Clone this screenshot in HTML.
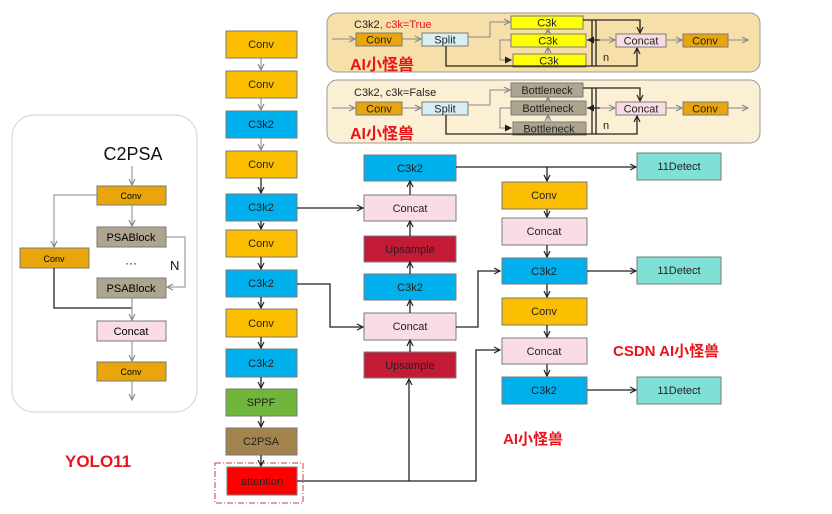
<!DOCTYPE html>
<html><head><meta charset="utf-8"><style>
html,body{margin:0;padding:0;background:#fff;width:832px;height:514px;overflow:hidden}
svg text{font-family:"Liberation Sans","Noto Sans CJK SC",sans-serif}
</style></head><body>
<svg width="832" height="514" viewBox="0 0 832 514" xmlns="http://www.w3.org/2000/svg">
<defs>
<marker id="a" markerWidth="8" markerHeight="8" refX="7" refY="4" orient="auto" markerUnits="userSpaceOnUse"><path d="M1,1 L7,4 L1,7" fill="none" stroke="#222" stroke-width="1.2"/></marker>
<marker id="g" markerWidth="8" markerHeight="8" refX="7" refY="4" orient="auto" markerUnits="userSpaceOnUse"><path d="M1,1 L7,4 L1,7" fill="none" stroke="#888" stroke-width="1.2"/></marker>
<marker id="f" markerWidth="8" markerHeight="8" refX="7" refY="4" orient="auto" markerUnits="userSpaceOnUse"><path d="M0,0.5 L7,4 L0,7.5z" fill="#222"/></marker>
</defs>
<style>
.b{stroke:#7a7a7a;stroke-width:1}
.l{fill:none;stroke:#222;stroke-width:1.3}
.lg{fill:none;stroke:#888;stroke-width:1}
.t{font-size:11px;text-anchor:middle;fill:#222}
.r{fill:#e8141b;font-weight:bold}
</style>

<!-- top panels -->
<rect x="327" y="13" width="433" height="59" rx="10" fill="#f7dfa9" stroke="#9a9a9a"/>
<rect x="327" y="80" width="433" height="63" rx="10" fill="#fcf0d4" stroke="#9a9a9a"/>
<text x="354" y="28" font-size="11" fill="#222">C3k2<tspan fill="#e8141b">, c3k=True</tspan></text>
<text x="354" y="96" font-size="11" fill="#222">C3k2, c3k=False</text>
<text x="350" y="70" font-size="16" class="r">AI小怪兽</text>
<text x="350" y="139" font-size="16" class="r">AI小怪兽</text>

<g>
<line x1="332" y1="39" x2="355" y2="39" class="lg" marker-end="url(#g)"/>
<rect x="356" y="33" width="46" height="13" fill="#e9a50c" class="b"/><text x="379" y="43.5" class="t">Conv</text>
<line x1="402" y1="39" x2="421" y2="39" class="lg" marker-end="url(#g)"/>
<rect x="422" y="33" width="46" height="13" fill="#d7eef5" class="b"/><text x="445" y="43.5" class="t">Split</text>
<polyline points="468,37 490,37 490,22 510,22" class="lg" marker-end="url(#g)"/>
<rect x="511" y="16" width="72" height="13" fill="#ffff00" class="b"/><text x="547" y="26.5" class="t">C3k</text>
<rect x="511" y="34" width="75" height="13" fill="#ffff00" class="b"/><text x="548" y="44.5" class="t">C3k</text>
<rect x="513" y="54" width="73" height="13" fill="#ffff00" class="b"/><text x="549" y="64.5" class="t">C3k</text>
<polyline points="446,46 446,66 637,66 637,48" class="l" marker-end="url(#a)"/>
<polyline points="583,20 640,20 640,33" class="l" marker-end="url(#a)"/>
<line x1="592" y1="20" x2="592" y2="66" class="l"/><line x1="596" y1="20" x2="596" y2="66" class="l"/>
<line x1="600" y1="40" x2="587" y2="40" class="l" marker-end="url(#f)"/>
<line x1="600" y1="40" x2="615" y2="40" class="lg" marker-end="url(#g)"/>
<polyline points="511,40 500,40 500,60 512,60" class="lg" marker-end="url(#f)"/>
<line x1="548" y1="34" x2="548" y2="29" class="lg" marker-end="url(#g)"/>
<line x1="548" y1="54" x2="548" y2="47" class="lg" marker-end="url(#g)"/>
<rect x="616" y="34" width="50" height="13" fill="#fadde4" class="b"/><text x="641" y="44.5" class="t">Concat</text>
<line x1="666" y1="40" x2="682" y2="40" class="lg" marker-end="url(#g)"/>
<rect x="683" y="34" width="45" height="13" fill="#e9a50c" class="b"/><text x="705" y="44.5" class="t">Conv</text>
<line x1="728" y1="40" x2="748" y2="40" class="lg" marker-end="url(#g)"/>
<text x="603" y="61" font-size="11" fill="#222">n</text>
</g>
<g transform="translate(0,68)">
<line x1="332" y1="40" x2="355" y2="40" class="lg" marker-end="url(#g)"/>
<rect x="356" y="34" width="46" height="13" fill="#e9a50c" class="b"/><text x="379" y="44.5" class="t">Conv</text>
<line x1="402" y1="40" x2="421" y2="40" class="lg" marker-end="url(#g)"/>
<rect x="422" y="34" width="46" height="13" fill="#d7eef5" class="b"/><text x="445" y="44.5" class="t">Split</text>
<polyline points="468,37 490,37 490,22 510,22" class="lg" marker-end="url(#g)"/>
<rect x="511" y="15" width="72" height="14" fill="#aea590" class="b"/><text x="547" y="26" class="t">Bottleneck</text>
<rect x="511" y="33" width="75" height="14" fill="#aea590" class="b"/><text x="548" y="44" class="t">Bottleneck</text>
<rect x="513" y="54" width="73" height="13" fill="#aea590" class="b"/><text x="549" y="64.5" class="t">Bottleneck</text>
<polyline points="446,47 446,66 637,66 637,48" class="l" marker-end="url(#a)"/>
<polyline points="583,20 640,20 640,33" class="l" marker-end="url(#a)"/>
<line x1="592" y1="20" x2="592" y2="66" class="l"/><line x1="596" y1="20" x2="596" y2="66" class="l"/>
<line x1="600" y1="40" x2="587" y2="40" class="l" marker-end="url(#f)"/>
<line x1="600" y1="40" x2="615" y2="40" class="lg" marker-end="url(#g)"/>
<polyline points="511,40 500,40 500,60 512,60" class="lg" marker-end="url(#f)"/>
<line x1="548" y1="33" x2="548" y2="29" class="lg" marker-end="url(#g)"/>
<line x1="548" y1="54" x2="548" y2="47" class="lg" marker-end="url(#g)"/>
<rect x="616" y="34" width="50" height="13" fill="#fadde4" class="b"/><text x="641" y="44.5" class="t">Concat</text>
<line x1="666" y1="40" x2="682" y2="40" class="lg" marker-end="url(#g)"/>
<rect x="683" y="34" width="45" height="13" fill="#e9a50c" class="b"/><text x="705" y="44.5" class="t">Conv</text>
<line x1="728" y1="40" x2="748" y2="40" class="lg" marker-end="url(#g)"/>
<text x="603" y="61" font-size="11" fill="#222">n</text>
</g>

<!-- C2PSA panel -->
<rect x="12" y="115" width="185" height="297" rx="22" fill="#fff" stroke="#d8d2c0"/>
<text x="133" y="160" font-size="18" text-anchor="middle" fill="#111">C2PSA</text>
<line x1="132" y1="166" x2="132" y2="185" class="lg" marker-end="url(#g)"/>
<rect x="97" y="186" width="69" height="19" fill="#e9a50c" class="b"/><text x="131" y="199" font-size="9" text-anchor="middle">Conv</text>
<polyline points="97,195 54,195 54,247" class="lg" marker-end="url(#g)"/>
<line x1="132" y1="205" x2="132" y2="226" class="lg" marker-end="url(#g)"/>
<rect x="97" y="227" width="69" height="20" fill="#aea590" class="b"/><text x="131" y="241" font-size="11" text-anchor="middle">PSABlock</text>
<rect x="20" y="248" width="69" height="20" fill="#e9a50c" class="b"/><text x="54" y="262" font-size="9" text-anchor="middle">Conv</text>
<text x="131" y="267" font-size="12" text-anchor="middle">···</text>
<text x="170" y="270" font-size="13" fill="#111">N</text>
<polyline points="166,237 185,237 185,287 167,287" class="lg" marker-end="url(#g)"/>
<rect x="97" y="278" width="69" height="20" fill="#aea590" class="b"/><text x="131" y="292" font-size="11" text-anchor="middle">PSABlock</text>
<polyline points="54,268 54,308 132,308" class="l"/>
<line x1="132" y1="298" x2="132" y2="320" class="lg" marker-end="url(#g)"/>
<rect x="97" y="321" width="69" height="20" fill="#fadde4" class="b"/><text x="131" y="335" font-size="11" text-anchor="middle">Concat</text>
<line x1="132" y1="341" x2="132" y2="361" class="lg" marker-end="url(#g)"/>
<rect x="97" y="362" width="69" height="19" fill="#e9a50c" class="b"/><text x="131" y="375" font-size="9" text-anchor="middle">Conv</text>
<line x1="132" y1="381" x2="132" y2="400" class="lg" marker-end="url(#g)"/>
<text x="65" y="467" font-size="17" class="r">YOLO11</text>

<!-- main column -->
<g>
<rect x="226" y="31" width="71" height="27" fill="#fbbf00" class="b"/><text x="261" y="48" class="t">Conv</text>
<rect x="226" y="71" width="71" height="27" fill="#fbbf00" class="b"/><text x="261" y="88" class="t">Conv</text>
<rect x="226" y="111" width="71" height="27" fill="#00b0ec" class="b"/><text x="261" y="128" class="t">C3k2</text>
<rect x="226" y="151" width="71" height="27" fill="#fbbf00" class="b"/><text x="261" y="168" class="t">Conv</text>
<rect x="226" y="194" width="71" height="27" fill="#00b0ec" class="b"/><text x="261" y="211" class="t">C3k2</text>
<rect x="226" y="230" width="71" height="27" fill="#fbbf00" class="b"/><text x="261" y="247" class="t">Conv</text>
<rect x="226" y="270" width="71" height="27" fill="#00b0ec" class="b"/><text x="261" y="287" class="t">C3k2</text>
<rect x="226" y="309" width="71" height="28" fill="#fbbf00" class="b"/><text x="261" y="327" class="t">Conv</text>
<rect x="226" y="349" width="71" height="28" fill="#00b0ec" class="b"/><text x="261" y="367" class="t">C3k2</text>
<rect x="226" y="389" width="71" height="27" fill="#70b53c" class="b"/><text x="261" y="406" class="t">SPPF</text>
<rect x="226" y="428" width="71" height="27" fill="#a3834c" class="b"/><text x="261" y="445" class="t">C2PSA</text>
<rect x="215" y="463" width="88" height="40" fill="none" stroke="#c0404a" stroke-dasharray="6,2,1,2"/>
<rect x="227" y="467" width="70" height="28" fill="#ff0000" class="b"/><text x="262" y="485" class="t">attention</text>
<line x1="261" y1="58" x2="261" y2="70" class="lg" marker-end="url(#g)"/>
<line x1="261" y1="98" x2="261" y2="110" class="lg" marker-end="url(#g)"/>
<line x1="261" y1="138" x2="261" y2="150" class="lg" marker-end="url(#g)"/>
<line x1="261" y1="178" x2="261" y2="193" class="l" marker-end="url(#a)"/>
<line x1="261" y1="221" x2="261" y2="229" class="l" marker-end="url(#a)"/>
<line x1="261" y1="257" x2="261" y2="269" class="l" marker-end="url(#a)"/>
<line x1="261" y1="297" x2="261" y2="308" class="l" marker-end="url(#a)"/>
<line x1="261" y1="337" x2="261" y2="348" class="l" marker-end="url(#a)"/>
<line x1="261" y1="377" x2="261" y2="388" class="l" marker-end="url(#a)"/>
<line x1="261" y1="416" x2="261" y2="427" class="l" marker-end="url(#a)"/>
<line x1="261" y1="455" x2="261" y2="466" class="l" marker-end="url(#a)"/>
</g>

<!-- middle column -->
<rect x="364" y="155" width="92" height="26" fill="#00b0ec" class="b"/><text x="410" y="172" class="t">C3k2</text>
<rect x="364" y="195" width="92" height="26" fill="#fadde4" class="b"/><text x="410" y="212" class="t">Concat</text>
<rect x="364" y="236" width="92" height="26" fill="#c31a36" class="b"/><text x="410" y="253" class="t">Upsample</text>
<rect x="364" y="274" width="92" height="26" fill="#00b0ec" class="b"/><text x="410" y="291" class="t">C3k2</text>
<rect x="364" y="313" width="92" height="27" fill="#fadde4" class="b"/><text x="410" y="330" class="t">Concat</text>
<rect x="364" y="352" width="92" height="26" fill="#c31a36" class="b"/><text x="410" y="369" class="t">Upsample</text>
<line x1="410" y1="195" x2="410" y2="181" class="l" marker-end="url(#a)"/>
<line x1="410" y1="236" x2="410" y2="221" class="l" marker-end="url(#a)"/>
<line x1="410" y1="274" x2="410" y2="262" class="l" marker-end="url(#a)"/>
<line x1="410" y1="313" x2="410" y2="300" class="l" marker-end="url(#a)"/>
<line x1="410" y1="352" x2="410" y2="340" class="l" marker-end="url(#a)"/>
<line x1="297" y1="208" x2="363" y2="208" class="l" marker-end="url(#a)"/>
<polyline points="297,284 330,284 330,327 363,327" class="l" marker-end="url(#a)"/>
<polyline points="297,481 476,481 476,350 500,350" class="l" marker-end="url(#a)"/>
<line x1="409" y1="481" x2="409" y2="379" class="l" marker-end="url(#a)"/>
<polyline points="456,327 478,327 478,271 500,271" class="l" marker-end="url(#a)"/>
<line x1="456" y1="167" x2="636" y2="167" class="l" marker-end="url(#a)"/>
<line x1="547" y1="167" x2="547" y2="181" class="l" marker-end="url(#a)"/>

<!-- right column -->
<rect x="502" y="182" width="85" height="27" fill="#fbbf00" class="b"/><text x="544" y="199" class="t">Conv</text>
<rect x="502" y="218" width="85" height="27" fill="#fadde4" class="b"/><text x="544" y="235" class="t">Concat</text>
<rect x="502" y="258" width="85" height="26" fill="#00b0ec" class="b"/><text x="544" y="275" class="t">C3k2</text>
<rect x="502" y="298" width="85" height="27" fill="#fbbf00" class="b"/><text x="544" y="315" class="t">Conv</text>
<rect x="502" y="338" width="85" height="26" fill="#fadde4" class="b"/><text x="544" y="355" class="t">Concat</text>
<rect x="502" y="377" width="85" height="27" fill="#00b0ec" class="b"/><text x="544" y="394" class="t">C3k2</text>
<line x1="547" y1="209" x2="547" y2="217" class="l" marker-end="url(#a)"/>
<line x1="547" y1="245" x2="547" y2="257" class="l" marker-end="url(#a)"/>
<line x1="547" y1="284" x2="547" y2="297" class="l" marker-end="url(#a)"/>
<line x1="547" y1="325" x2="547" y2="337" class="l" marker-end="url(#a)"/>
<line x1="547" y1="364" x2="547" y2="376" class="l" marker-end="url(#a)"/>
<line x1="587" y1="271" x2="636" y2="271" class="l" marker-end="url(#a)"/>
<line x1="587" y1="390" x2="636" y2="390" class="l" marker-end="url(#a)"/>
<rect x="637" y="153" width="84" height="27" fill="#7fe0d6" class="b"/><text x="679" y="170" class="t">11Detect</text>
<rect x="637" y="257" width="84" height="27" fill="#7fe0d6" class="b"/><text x="679" y="274" class="t">11Detect</text>
<rect x="637" y="377" width="84" height="27" fill="#7fe0d6" class="b"/><text x="679" y="394" class="t">11Detect</text>
<text x="613" y="356" font-size="15" class="r">CSDN AI小怪兽</text>
<text x="503" y="444" font-size="15" class="r">AI小怪兽</text>
</svg>
</body></html>
